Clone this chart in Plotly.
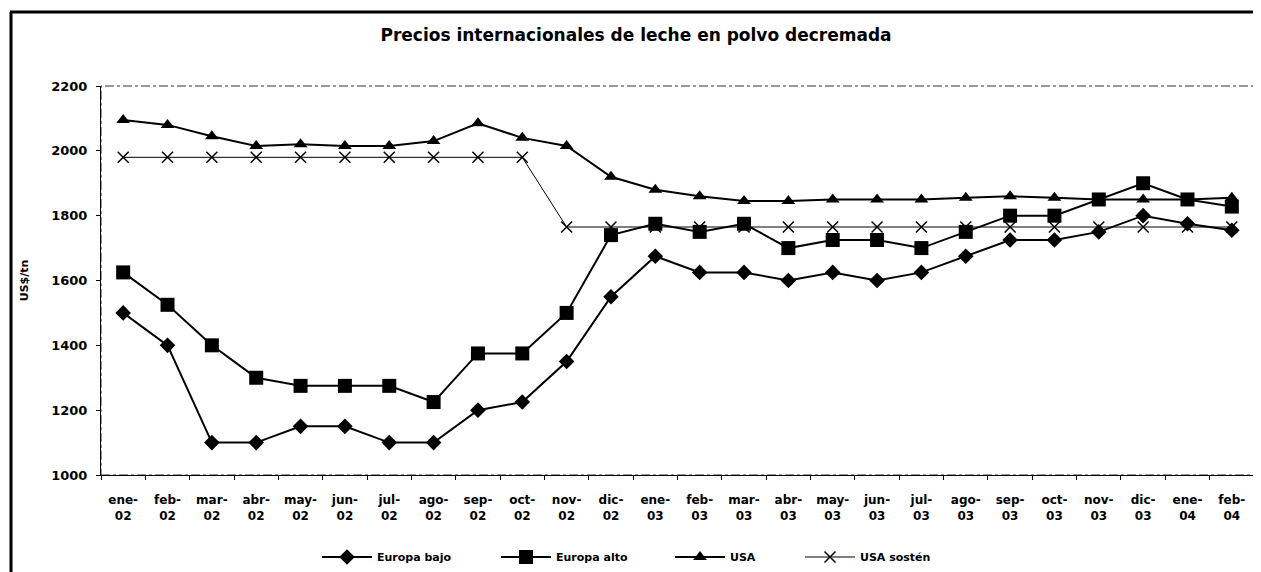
import plotly.graph_objects as go

categories = ["ene-<br>02", "feb-<br>02", "mar-<br>02", "abr-<br>02", "may-<br>02", "jun-<br>02",
              "jul-<br>02", "ago-<br>02", "sep-<br>02", "oct-<br>02", "nov-<br>02", "dic-<br>02",
              "ene-<br>03", "feb-<br>03", "mar-<br>03", "abr-<br>03", "may-<br>03", "jun-<br>03",
              "jul-<br>03", "ago-<br>03", "sep-<br>03", "oct-<br>03", "nov-<br>03", "dic-<br>03",
              "ene-<br>04", "feb-<br>04"]

europa_bajo = [1500, 1400, 1100, 1100, 1150, 1150, 1100, 1100, 1200, 1225, 1350, 1550,
               1675, 1625, 1625, 1600, 1625, 1600, 1625, 1675, 1725, 1725, 1750, 1800, 1775, 1755]
europa_alto = [1625, 1525, 1400, 1300, 1275, 1275, 1275, 1225, 1375, 1375, 1500, 1740,
               1775, 1750, 1775, 1700, 1725, 1725, 1700, 1750, 1800, 1800, 1850, 1900, 1850, 1828]
usa = [2095, 2080, 2045, 2015, 2020, 2015, 2015, 2030, 2085, 2040, 2015, 1920,
       1880, 1860, 1845, 1845, 1850, 1850, 1850, 1855, 1860, 1855, 1850, 1850, 1850, 1855]
usa_sosten = [1980, 1980, 1980, 1980, 1980, 1980, 1980, 1980, 1980, 1980, 1765, 1765,
              1765, 1765, 1765, 1765, 1765, 1765, 1765, 1765, 1765, 1765, 1765, 1765, 1765, 1765]

y_ticks = [1000, 1200, 1400, 1600, 1800, 2000, 2200]

FONT = "DejaVu Sans"
OFF = 8  # page body margin in the browser
W, H = 1261 - OFF, 572 - OFF
L, R, T, B = 101 - OFF, 7, 86 - OFF, 97
PW, PH = W - L - R, H - T - B


def px_x(page_x):
    return (page_x - OFF - L) / PW


def px_y(page_y):
    return (H - B - (page_y - OFF)) / PH


fig = go.Figure()
fig.add_trace(go.Scatter(x=categories, y=europa_bajo, name="Europa bajo", mode="lines+markers",
                         line=dict(color="black", width=2), legend="legend",
                         marker=dict(symbol="diamond", size=12, color="black")))
fig.add_trace(go.Scatter(x=categories, y=europa_alto, name="Europa alto", mode="lines+markers",
                         line=dict(color="black", width=2), legend="legend2",
                         marker=dict(symbol="square", size=14, color="black")))
fig.add_trace(go.Scatter(x=categories, y=usa, name="USA", mode="lines+markers",
                         line=dict(color="black", width=2), legend="legend3",
                         marker=dict(symbol="triangle-up", size=12, color="black")))
fig.add_trace(go.Scatter(x=categories, y=usa_sosten, name="USA sostén", mode="lines+markers",
                         line=dict(color="black", width=1), legend="legend4",
                         marker=dict(symbol="x-thin", size=11, line=dict(color="black", width=1.5))))

legfont = dict(size=11, family=FONT, weight="bold", color="black")


def leg(text_start_page_px):
    return dict(orientation="h", x=(text_start_page_px - OFF - 60) / W, xref="container",
                xanchor="left", y=(H - (557 - OFF)) / H, yref="container", yanchor="middle",
                font=legfont, itemwidth=50, bgcolor="rgba(0,0,0,0)")


fig.update_layout(
    width=W, height=H,
    paper_bgcolor="white", plot_bgcolor="white",
    margin=dict(l=L, r=R, t=T, b=B, autoexpand=False),
    font=dict(family=FONT, color="black"),
    title=dict(text="Precios internacionales de leche en polvo decremada",
               x=(636 - OFF) / W, xanchor="center", xref="container",
               y=1 - (35 - OFF) / H, yanchor="middle", yref="container",
               font=dict(size=17, family=FONT, weight="bold", color="black")),
    showlegend=True,
    legend=leg(377), legend2=leg(556), legend3=leg(730), legend4=leg(860),
    xaxis=dict(type="category", showgrid=False, showline=True, linecolor="black", linewidth=1,
               ticks="outside", ticklen=4, tickcolor="black", tickson="boundaries",
               tickfont=dict(size=12, family=FONT, weight="bold", color="black"), tickangle=0,
               ticklabelstandoff=14, range=[-0.5, 25.5], automargin=False),
    yaxis=dict(range=[1000, 2200], tickvals=y_ticks, showgrid=False, showline=True,
               linecolor="black", linewidth=1, ticks="outside", ticklen=4, tickcolor="black",
               tickfont=dict(size=13, family=FONT, weight="bold", color="black"),
               ticklabelstandoff=6, automargin=False,
               title=dict(text="US$/tn", font=dict(size=11, family=FONT, weight="bold", color="black"),
                          standoff=20),
               zeroline=False),
    shapes=[
        dict(type="rect", xref="paper", yref="paper", x0=0, x1=1, y0=0, y1=1,
             line=dict(color="#333", width=1, dash="dashdot"), layer="below"),
        dict(type="line", xref="paper", yref="paper", x0=px_x(10), x1=px_x(1300),
             y0=px_y(12), y1=px_y(12), line=dict(color="black", width=3)),
        dict(type="line", xref="paper", yref="paper", x0=px_x(11), x1=px_x(11),
             y0=px_y(12), y1=px_y(600), line=dict(color="black", width=3)),
    ],
)

fig.write_html("out.html")
